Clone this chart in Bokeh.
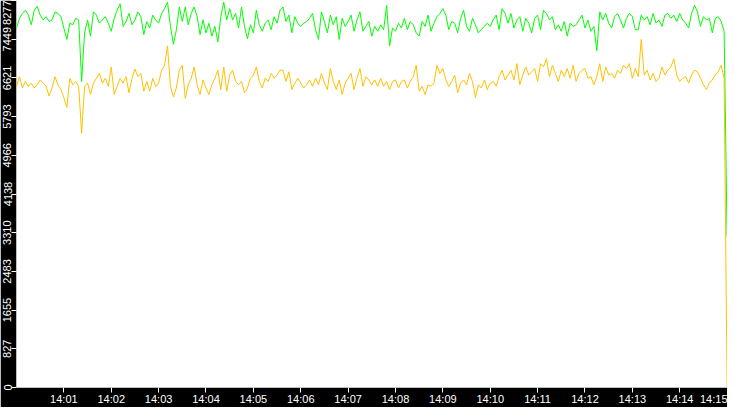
import pandas as pd
from bokeh.plotting import figure
from bokeh.models import Range1d, FixedTicker
from bokeh.embed import file_html
from bokeh.resources import INLINE

# ---- data ----
start_time = "2024-01-01 14:00:00"
sample_step_ms = 3750

green_values = [
    7688, 7896, 8000, 8069, 7965, 7757, 8069, 8152, 7965, 7861, 7931, 7827, 7861, 8034, 8000,
    7931, 7688, 7445, 7792, 7757, 7896, 7861, 6545, 7584, 7861, 7515, 8034, 7965, 7792, 7861,
    7931, 7792, 7619, 7896, 8069, 8208, 7723, 7827, 8000, 7757, 7861, 8034, 7931, 7549, 7827,
    7688, 7965, 7861, 7792, 8000, 8104, 8242, 7723, 7341, 7653, 8138, 7827, 8138, 7757, 8000,
    8138, 7931, 7549, 7861, 7584, 7792, 7515, 7723, 7390, 7931, 8242, 7861, 8104, 7861, 8000,
    7688, 8138, 7723, 7459, 7757, 7584, 8069, 7757, 7619, 7792, 7861, 7653, 7931, 7792, 8069,
    8138, 7827, 7965, 7584, 7931, 7792, 7723, 7792, 7827, 7896, 8000, 7653, 7445, 8034, 7827,
    7584, 7965, 7757, 7931, 7445, 7896, 7723, 7827, 7965, 7619, 7861, 8034, 7619, 7723, 7827,
    7515, 7723, 7619, 7757, 7653, 8173, 7307, 7688, 7619, 7792, 7688, 7896, 7653, 7827, 7757,
    7584, 7515, 7827, 7723, 7965, 7619, 7792, 7931, 8000, 8104, 7965, 7653, 7827, 7792, 7584,
    7896, 8069, 7723, 7619, 7896, 7757, 7584, 7653, 7723, 7792, 7723, 7861, 7965, 7653, 8104,
    8000, 7792, 8000, 7688, 7861, 7931, 7619, 7896, 7792, 7584, 7896, 7965, 7653, 8069, 8000,
    7861, 7931, 7653, 7757, 7619, 7827, 7515, 7792, 7723, 7757, 7861, 7965, 7688, 7861, 7619,
    7723, 7203, 8034, 7861, 8000, 7792, 7688, 7931, 8000, 7861, 7688, 7896, 8000, 7931, 7653,
    7653, 7965, 7861, 7931, 7757, 8000, 7792, 7861, 7723, 7965, 8000, 7896, 7965, 7827, 8000,
    7861, 7792, 7688, 8000, 8173, 8034, 7723, 7931, 7861, 7896, 7584, 7896, 7931, 7827, 7619,
    3230,
]

orange_values = [
    6441, 6648, 6406, 6545, 6441, 6510, 6406, 6475, 6579, 6510, 6441, 6233, 6406, 6648, 6475,
    6371, 6198, 5990, 6614, 6475, 6545, 6441, 5436, 6441, 6510, 6267, 6510, 6614, 6718, 6510,
    6614, 6441, 6856, 6267, 6441, 6614, 6510, 6648, 6302, 6614, 6808, 6648, 6718, 6337, 6545,
    6337, 6614, 6441, 6510, 6787, 6891, 7307, 6441, 6212, 6406, 6787, 6891, 6184, 6475, 6614,
    6856, 6475, 6267, 6579, 6406, 6267, 6475, 6614, 6787, 6371, 6856, 6337, 6683, 6787, 6545,
    6475, 6545, 6302, 6406, 6614, 6683, 6856, 6545, 6406, 6614, 6545, 6718, 6614, 6683, 6787,
    6787, 6545, 6752, 6371, 6510, 6614, 6510, 6406, 6475, 6579, 6441, 6614, 6475, 6718, 6510,
    6371, 6822, 6545, 6371, 6579, 6267, 6510, 6614, 6718, 6371, 6614, 6822, 6441, 6648, 6579,
    6475, 6579, 6441, 6614, 6441, 6545, 6371, 6545, 6579, 6406, 6545, 6579, 6406, 6545, 6648,
    6891, 6337, 6441, 6267, 6475, 6441, 6510, 6891, 6718, 6822, 6579, 6441, 6545, 6683, 6302,
    6510, 6579, 6475, 6718, 6545, 6198, 6475, 6406, 6579, 6371, 6510, 6545, 6441, 6648, 6787,
    6579, 6683, 6787, 6579, 6926, 6475, 6683, 6856, 6683, 6752, 6822, 6545, 6926, 6856, 7030,
    6648, 6891, 6718, 6545, 6787, 6648, 6822, 6614, 6891, 6545, 6718, 6787, 6822, 6614, 6648,
    6475, 6648, 6926, 6545, 6856, 6683, 6718, 6614, 6787, 6718, 6891, 6822, 6926, 6614, 6822,
    6648, 7445, 6683, 6787, 6579, 6718, 6545, 6614, 6856, 6683, 6787, 6856, 7030, 6683, 6545,
    6614, 6648, 6510, 6683, 6787, 6752, 6614, 6475, 6371, 6510, 6579, 6683, 6752, 6891, 6614,
    0,
]

y_ticks = [0, 827.7, 1655.4, 2483.1, 3310.8, 4138.5, 4966.2, 5793.9, 6621.6, 7449.3, 8277]
y_tick_labels = ["0", "827", "1655", "2483", "3310", "4138", "4966", "5793", "6621", "7449", "8277"]

x_tick_times = ["14:01", "14:02", "14:03", "14:04", "14:05", "14:06", "14:07", "14:08",
                "14:09", "14:10", "14:11", "14:12", "14:13", "14:14", "14:15"]

# ---- build time axis ----
t0 = pd.Timestamp(start_time)
n = len(green_values)
times = [t0 + pd.Timedelta(milliseconds=sample_step_ms * i) for i in range(n - 1)]
times.append(t0 + pd.Timedelta(minutes=15))

def ms(ts):
    return (ts - pd.Timestamp("1970-01-01")) / pd.Timedelta(milliseconds=1)

x_ticks = [ms(pd.Timestamp("2024-01-01 " + s)) for s in x_tick_times]

p = figure(width=727, height=407, x_axis_type="datetime",
           output_backend="svg", toolbar_location=None,
           x_range=Range1d(ms(t0), ms(t0 + pd.Timedelta(seconds=900.5))),
           y_range=Range1d(0, 8277),
           min_border_left=0, min_border_right=0, min_border_top=0, min_border_bottom=0)

p.background_fill_color = "white"
p.border_fill_color = "black"
p.outline_line_color = None
p.grid.visible = False

p.line(times, green_values, line_color="#00ff00", line_width=1)
p.line(times, orange_values, line_color="#ffc000", line_width=1)

font = "Liberation Sans"
for ax in (p.xaxis[0], p.yaxis[0]):
    ax.axis_line_color = None
    ax.major_tick_line_color = "white"
    ax.major_tick_out = 5
    ax.major_tick_in = 0
    ax.minor_tick_line_color = None
    ax.major_label_text_color = "white"
    ax.major_label_text_font = font
    ax.major_label_text_font_size = "11px"
    ax.major_label_standoff = 0

p.xaxis[0].ticker = FixedTicker(ticks=x_ticks)
p.xaxis[0].major_label_overrides = dict(zip(x_ticks, x_tick_times))

p.yaxis[0].ticker = FixedTicker(ticks=y_ticks)
p.yaxis[0].major_label_overrides = dict(zip(y_ticks, y_tick_labels))
p.yaxis[0].major_label_orientation = "vertical"

open("out.html", "w").write(file_html(p, INLINE))
